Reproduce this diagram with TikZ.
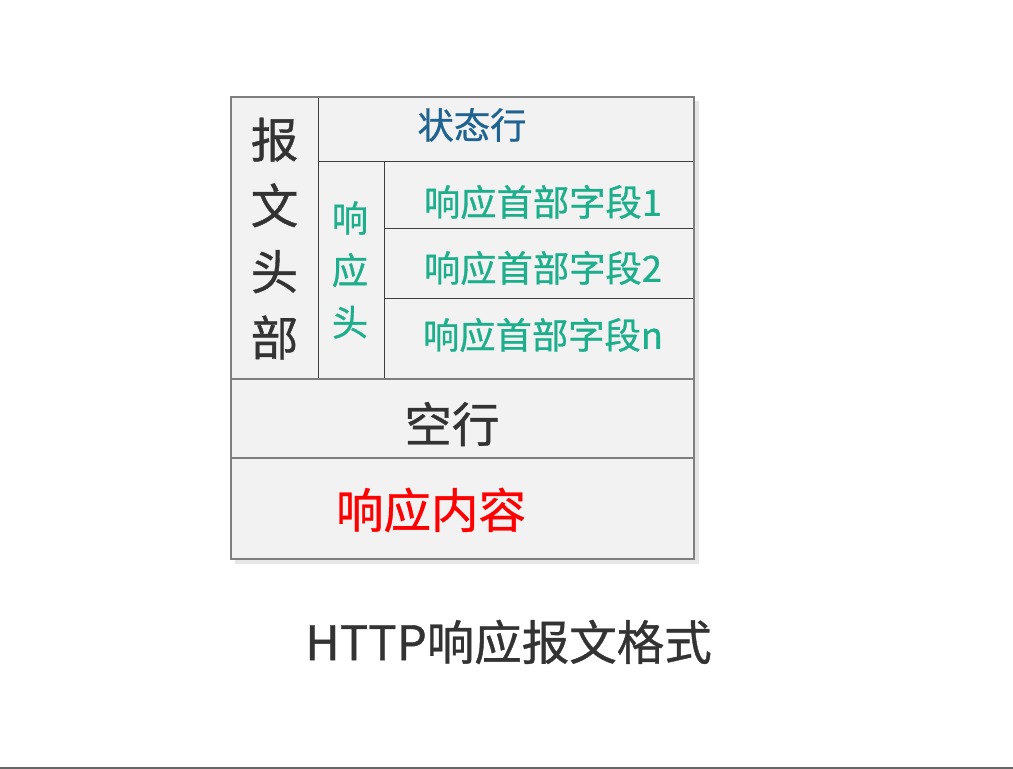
\documentclass[tikz,border=0pt]{standalone}
\usepackage{fontspec}
\newfontfamily\cjk[RawFeature={embolden=0.8}]{Noto Sans CJK SC}
\definecolor{cellfill}{HTML}{F2F2F2}
\definecolor{outline}{HTML}{7F7F7F}
\definecolor{inner}{HTML}{3F3F3F}
\definecolor{darktxt}{HTML}{333333}
\definecolor{bluetxt}{HTML}{1F6391}
\definecolor{tealtxt}{HTML}{1DAE8C}
\definecolor{shadowc}{HTML}{E6E6E6}
\begin{document}
\begin{tikzpicture}[x=1pt,y=-1pt,
  bigtxt/.style={font=\cjk\fontsize{47.5}{66}\selectfont, text=darktxt, inner sep=0pt, align=center},
  midtxt/.style={font=\cjk\fontsize{36.3}{52}\selectfont, inner sep=0pt, align=center},
  gridline/.style={draw=inner, line width=1pt},
  frameline/.style={draw=outline, line width=1.2pt}]
\useasboundingbox (0,0) rectangle (1013,769);
\fill[white] (0,0) rectangle (1013,769);
% shadow
\fill[shadowc] (235,101) rectangle (699,564);
% cells
\fill[cellfill] (231,97) rectangle (694,559);
% inner lines
\draw[gridline] (318,97) -- (318,379);
\draw[gridline] (384,161) -- (384,379);
\draw[gridline] (318,161) -- (694,161);
\draw[gridline] (384,228) -- (694,228);
\draw[gridline] (384,298) -- (694,298);
\draw[frameline] (231,379) -- (694,379);
\draw[frameline] (231,458) -- (694,458);
% frame
\draw[frameline] (231,97) rectangle (694,559);
% texts
\node[bigtxt] (bwtb) at (274.5,238.5) {报\\文\\头\\部};
\node[midtxt, text=bluetxt] (ztx) at (472,125) {状态行};
\node[midtxt, text=tealtxt] (xyt) at (350,270) {响\\应\\头};
\node[midtxt, text=tealtxt] (f1) at (543,202) {响应首部字段1};
\node[midtxt, text=tealtxt] (f2) at (543,268) {响应首部字段2};
\node[midtxt, text=tealtxt] (fn) at (543,335) {响应首部字段n};
\node[bigtxt] (kh) at (452,424) {空行};
\node[bigtxt, text=red] (xynr) at (431,510) {响应内容};
\node[bigtxt] (title) at (508.5,642) {HTTP响应报文格式};
% bottom strip
\fill[gray!80!black] (0,766.5) rectangle (1013,769);
\end{tikzpicture}
\end{document}
